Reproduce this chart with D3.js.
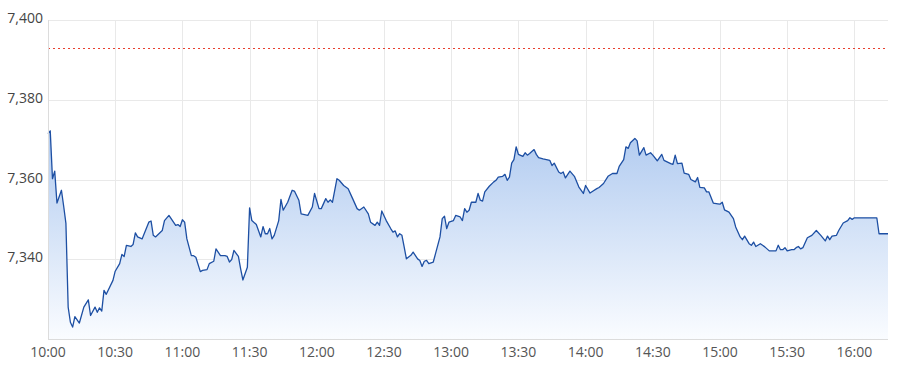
<!DOCTYPE html>
<html>
<head>
<meta charset="utf-8">
<script src="https://cdn.jsdelivr.net/npm/d3@7"></script>
<style>
  body { margin: 0; background: #fff; }
  svg { display: block; font-family: "Open Sans", "Noto Sans", sans-serif; }
</style>
</head>
<body>
<svg id="chart" width="900" height="375"></svg>
<script>
// minutes after 10:00 and index level
const minutes = [0, 1, 2, 3, 4, 6, 7, 8, 9, 10, 11, 12, 14, 16, 18, 19, 21, 22, 23, 24, 25, 26, 29, 30, 32, 33, 34, 35, 37, 38, 39, 40, 42, 45, 46, 47, 48, 51, 52, 54, 57, 58, 59, 60, 61, 62, 64, 65, 66, 68, 69, 71, 72, 74, 75, 77, 79, 80, 81, 82, 83, 85, 86, 87, 89, 90, 91, 93, 95, 96, 97, 98, 99, 100, 101, 103, 104, 105, 107, 109, 110, 112, 113, 116, 118, 119, 121, 122, 124, 125, 126, 127, 129, 130, 132, 134, 136, 138, 139, 141, 143, 144, 146, 147, 148, 149, 151, 153, 154, 155, 156, 157, 158, 159, 160, 162, 163, 165, 166, 167, 168, 169, 170, 172, 173, 175, 176, 177, 178, 179, 181, 182, 184, 185, 186, 187, 188, 189, 191, 192, 193, 194, 195, 197, 199, 200, 201, 203, 204, 205, 206, 207, 208, 209, 210, 212, 213, 214, 215, 217, 218, 219, 221, 224, 225, 226, 228, 229, 230, 231, 233, 235, 237, 239, 240, 242, 243, 245, 246, 248, 250, 252, 254, 255, 257, 258, 259, 260, 262, 263, 264, 266, 267, 269, 270, 272, 274, 275, 278, 279, 280, 281, 283, 284, 286, 287, 289, 290, 291, 293, 294, 295, 297, 299, 300, 301, 302, 304, 306, 307, 309, 310, 311, 313, 314, 315, 316, 318, 319, 320, 322, 325, 326, 327, 328, 329, 330, 332, 333, 334, 335, 336, 337, 339, 341, 343, 345, 347, 348, 349, 350, 352, 353, 355, 357, 358, 359, 360, 370, 371, 375];
const prices = [7371.5, 7372.2, 7360.2, 7362.1, 7354.1, 7357.3, 7353.3, 7349.0, 7328.0, 7324.2, 7323.0, 7325.6, 7324.0, 7328.0, 7329.8, 7325.9, 7328.0, 7326.7, 7327.8, 7327.0, 7332.2, 7331.2, 7334.7, 7337.0, 7338.9, 7341.2, 7340.7, 7343.5, 7343.2, 7343.7, 7346.6, 7345.6, 7345.1, 7349.3, 7349.6, 7346.0, 7345.6, 7347.2, 7349.7, 7351.0, 7348.5, 7348.7, 7348.2, 7349.9, 7349.3, 7345.1, 7340.9, 7340.9, 7340.5, 7336.9, 7337.2, 7337.4, 7338.9, 7339.5, 7342.6, 7340.9, 7340.9, 7340.7, 7339.3, 7339.9, 7342.2, 7340.7, 7337.6, 7334.8, 7338.0, 7352.9, 7349.7, 7348.7, 7345.6, 7348.2, 7346.4, 7346.4, 7347.7, 7345.1, 7346.0, 7349.7, 7355.0, 7352.3, 7354.3, 7357.3, 7357.1, 7354.8, 7351.4, 7351.0, 7353.1, 7356.5, 7352.7, 7352.7, 7355.2, 7354.3, 7354.9, 7354.3, 7360.2, 7359.8, 7358.5, 7357.7, 7355.2, 7352.7, 7352.3, 7353.1, 7351.4, 7349.3, 7348.5, 7349.3, 7348.5, 7352.1, 7349.7, 7347.7, 7346.8, 7347.1, 7345.6, 7346.4, 7346.0, 7343.1, 7340.1, 7341.0, 7341.8, 7340.1, 7339.7, 7338.2, 7339.5, 7339.7, 7338.9, 7339.3, 7341.4, 7345.6, 7350.2, 7350.8, 7347.7, 7349.3, 7349.7, 7351.0, 7350.6, 7349.7, 7352.7, 7351.8, 7352.3, 7354.3, 7354.3, 7356.5, 7354.8, 7354.6, 7356.9, 7358.3, 7359.4, 7359.8, 7360.6, 7360.8, 7361.3, 7359.8, 7360.6, 7364.1, 7365.0, 7368.2, 7366.3, 7365.8, 7366.7, 7366.1, 7366.5, 7367.5, 7366.3, 7365.5, 7365.2, 7364.8, 7363.5, 7364.1, 7361.9, 7361.5, 7361.9, 7360.4, 7362.1, 7360.8, 7358.1, 7356.5, 7358.5, 7356.6, 7357.0, 7357.7, 7358.0, 7359.0, 7360.8, 7361.5, 7361.5, 7363.3, 7365.0, 7368.2, 7367.8, 7369.2, 7370.3, 7369.7, 7366.1, 7368.0, 7366.1, 7366.7, 7366.1, 7364.7, 7366.3, 7364.8, 7364.0, 7363.8, 7366.1, 7364.0, 7364.1, 7361.6, 7361.3, 7360.0, 7359.4, 7360.5, 7358.0, 7357.9, 7356.9, 7356.9, 7354.1, 7353.9, 7353.8, 7354.3, 7352.4, 7351.8, 7350.2, 7348.1, 7345.6, 7344.9, 7345.8, 7343.9, 7343.5, 7344.3, 7343.2, 7343.9, 7343.5, 7343.1, 7342.1, 7342.1, 7343.5, 7342.4, 7342.4, 7342.9, 7342.1, 7342.4, 7342.4, 7342.9, 7343.2, 7342.6, 7342.9, 7345.4, 7346.0, 7347.2, 7346.0, 7344.6, 7345.8, 7344.9, 7345.8, 7346.0, 7347.2, 7349.1, 7349.7, 7350.4, 7350.0, 7350.4, 7350.4, 7346.4, 7346.4];

// previous close (red dotted line)
const prevClose = 7393;
const yTicks = [7340, 7360, 7380, 7400];
const yDomain = [7320, 7400];
const xTickLabels = ['10:00', '10:30', '11:00', '11:30', '12:00', '12:30', '13:00', '13:30', '14:00', '14:30', '15:00', '15:30', '16:00'];

const parseTime = d3.timeParse('%H:%M');
const start = parseTime('10:00');
const end = parseTime('16:15');
const data = minutes.map((m, i) => ({ t: d3.timeMinute.offset(start, m), v: prices[i] }));

const margin = { top: 20, right: 12, bottom: 36, left: 48 };
const width = 900, height = 375;
const chartWidth = width - margin.left - margin.right;
const chartHeight = height - margin.top - margin.bottom;

const svg = d3.select('#chart');
const g = svg.append('g').attr('transform', `translate(${margin.left},${margin.top})`);

const xScale = d3.scaleTime().domain([start, end]).range([0, chartWidth]);
const yScale = d3.scaleLinear().domain(yDomain).range([chartHeight, 0]);

// gradient for the area
const gradient = svg.append('defs').append('linearGradient')
  .attr('id', 'area-gradient')
  .attr('gradientUnits', 'userSpaceOnUse')
  .attr('x1', 0).attr('x2', 0)
  .attr('y1', yScale(7372)).attr('y2', chartHeight);
gradient.append('stop').attr('offset', '0%').attr('stop-color', '#b1cbf0');
gradient.append('stop').attr('offset', '100%').attr('stop-color', '#fafcff');

// grid lines
g.append('g')
  .selectAll('line')
  .data(yTicks)
  .enter().append('line')
  .attr('x1', 0).attr('x2', chartWidth)
  .attr('y1', d => Math.round(yScale(d)) + 0.5)
  .attr('y2', d => Math.round(yScale(d)) + 0.5)
  .attr('stroke', '#e9e9e9');

const xTicks = xTickLabels.map(parseTime);
g.append('g')
  .selectAll('line')
  .data(xTicks.slice(1))
  .enter().append('line')
  .attr('x1', d => Math.round(xScale(d)) + 0.5)
  .attr('x2', d => Math.round(xScale(d)) + 0.5)
  .attr('y1', 0).attr('y2', chartHeight)
  .attr('stroke', '#e9e9e9');

// area and line
const area = d3.area()
  .x(d => xScale(d.t))
  .y0(chartHeight)
  .y1(d => yScale(d.v));

const line = d3.line()
  .x(d => xScale(d.t))
  .y(d => yScale(d.v));

g.append('path')
  .datum(data)
  .attr('d', area)
  .attr('fill', 'url(#area-gradient)');

g.append('path')
  .datum(data)
  .attr('d', line)
  .attr('fill', 'none')
  .attr('stroke', '#1d4fa3')
  .attr('stroke-width', 1.3)
  .attr('stroke-linejoin', 'round');

// previous close
g.append('line')
  .attr('x1', 0).attr('x2', chartWidth)
  .attr('y1', Math.round(yScale(prevClose)) + 0.5)
  .attr('y2', Math.round(yScale(prevClose)) + 0.5)
  .attr('stroke', '#e8412f')
  .attr('stroke-dasharray', '2,3');

// axes lines
g.append('line')
  .attr('x1', 0.5).attr('x2', 0.5)
  .attr('y1', 0).attr('y2', chartHeight)
  .attr('stroke', '#dcdcdc');
g.append('line')
  .attr('x1', 0).attr('x2', chartWidth)
  .attr('y1', chartHeight + 0.5).attr('y2', chartHeight + 0.5)
  .attr('stroke', '#dcdcdc');

// y labels
g.append('g')
  .selectAll('text')
  .data(yTicks)
  .enter().append('text')
  .attr('x', -5)
  .attr('y', d => yScale(d) + 3)
  .attr('text-anchor', 'end')
  .style('fill', '#444')
  .style('font-size', '14px')
  .text(d3.format(','));

// x labels
g.append('g')
  .selectAll('text')
  .data(xTicks)
  .enter().append('text')
  .attr('x', d => xScale(d))
  .attr('y', chartHeight + 18)
  .attr('text-anchor', 'middle')
  .style('fill', '#555')
  .style('font-size', '14px')
  .text(d3.timeFormat('%H:%M'));
</script>
</body>
</html>
